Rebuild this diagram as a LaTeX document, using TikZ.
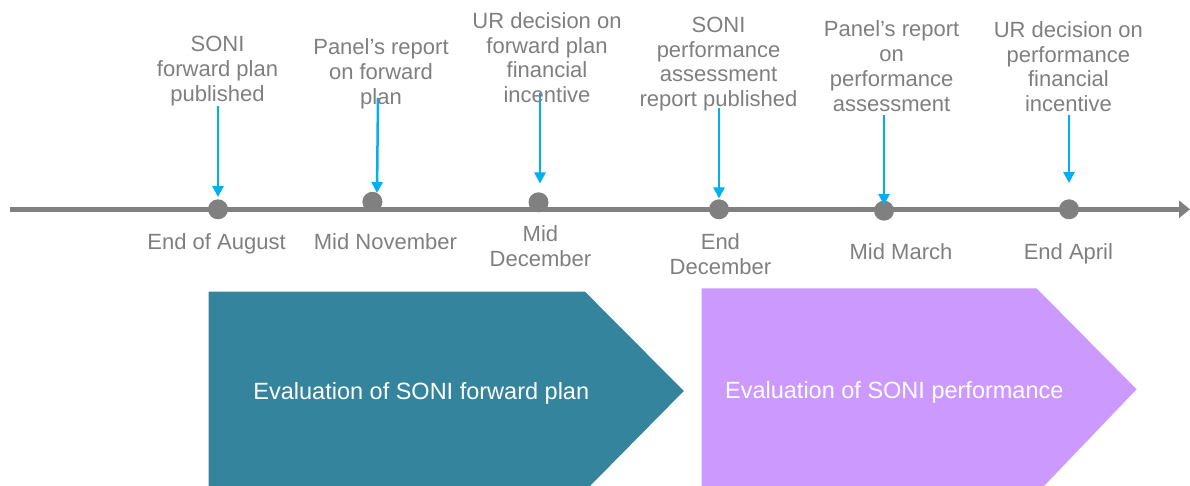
\documentclass[tikz,border=0pt]{standalone}
\usepackage{fontspec}
\setmainfont{Liberation Sans}
\usetikzlibrary{arrows.meta}
\definecolor{txtgray}{RGB}{127,127,127}
\definecolor{linegray}{RGB}{128,128,128}
\definecolor{arrowblue}{RGB}{0,176,240}
\definecolor{phaseteal}{RGB}{51,132,156}
\definecolor{phaselilac}{RGB}{204,153,255}
\begin{document}
\begin{tikzpicture}[x=1pt,y=-1pt,
  every node/.style={inner sep=0pt, outer sep=0pt},
  lbl/.style={font=\fontsize{22}{24.8}\selectfont, text=txtgray, align=center, anchor=base},
  dotmark/.style={circle, fill=linegray, minimum size=20pt},
  evt/.style={draw=arrowblue, line width=2.5pt, -{Triangle[width=11pt,length=11pt]}},
  timeline/.style={draw=linegray, line width=5.5pt, -{Triangle[width=17pt,length=11pt]}},
  phasetext/.style={font=\fontsize{23.5}{27}\selectfont, text=white, anchor=base}
]
\useasboundingbox (0,0) rectangle (1190,486);

% phases
\fill[phaseteal] (208.7,291.7) -- (585,291.7) -- (683.8,391) -- (590,486) -- (208.7,486) -- cycle;
\fill[phaselilac] (701.7,288.3) -- (1036.5,288.3) -- (1136.6,389.3) -- (1044,486) -- (701.7,486) -- cycle;
\node[phasetext] (p1) at (421.3,399.3) {Evaluation of SONI forward plan};
\node[phasetext] (p2) at (894.3,398) {Evaluation of SONI performance};

% timeline
\coordinate (tl0) at (10,209.3);
\coordinate (tl1) at (1190,209.3);
\draw[timeline] (tl0) -- (tl1);

% dots
\node[dotmark] (d1) at (218,209.3) {};
\node[dotmark] (d2) at (372.4,201.8) {};
\node[dotmark] (d3) at (538.5,202.3) {};
\node[dotmark] (d4) at (719,209.3) {};
\node[dotmark] (d5) at (884,210.7) {};
\node[dotmark] (d6) at (1069,209.3) {};

% arrows
\coordinate (s1) at (218,106);   \coordinate (e1) at (218,197);
\coordinate (s2) at (378,98);    \coordinate (e2) at (377,193);
\coordinate (s3) at (540,93);    \coordinate (e3) at (540,183.5);
\coordinate (s4) at (719,108);   \coordinate (e4) at (719,198.5);
\coordinate (s5) at (884,115);   \coordinate (e5) at (884,205);
\coordinate (s6) at (1069,115);  \coordinate (e6) at (1069,183);
\foreach \i in {1,...,6} { \draw[evt] (s\i) -- (e\i); }

% top labels (anchored at the baseline of the last line)
\node[lbl] (t1) at (217.5,101.3) {SONI\\forward plan\\published};
\node[lbl] (t2) at (381,104.6) {Panel’s report\\on forward\\plan};
\node[lbl] (t3) at (547,102.7) {UR decision on\\forward plan\\financial\\incentive};
\node[lbl] (t4) at (718.5,106.7) {SONI\\performance\\assessment\\report published};
\node[lbl] (t5) at (891.6,111.1) {Panel’s report\\on\\performance\\assessment};
\node[lbl] (t6) at (1068.4,111.7) {UR decision on\\performance\\financial\\incentive};

% bottom labels
\node[lbl] (b1) at (216.6,250) {End of August};
\node[lbl] (b2) at (385.4,250) {Mid November};
\node[lbl] (b3) at (540.4,266.5) {Mid\\December};
\node[lbl] (b4) at (720.4,274.1) {End\\December};
\node[lbl] (b5) at (901,259.3) {Mid March};
\node[lbl] (b6) at (1068.4,259.3) {End April};
\end{tikzpicture}
\end{document}
